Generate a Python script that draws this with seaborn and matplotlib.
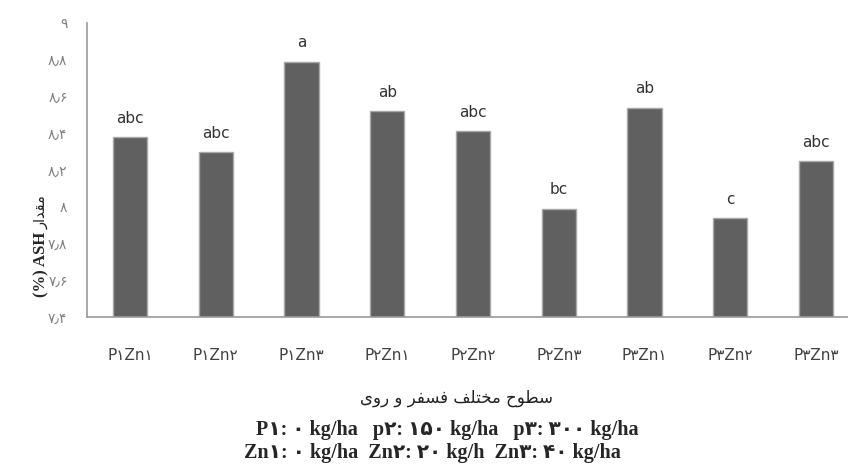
import matplotlib
matplotlib.use('Agg')
import matplotlib.pyplot as plt
import seaborn as sns
import pandas as pd

# data
treatments = ['P۱Zn۱', 'P۱Zn۲', 'P۱Zn۳', 'P۲Zn۱', 'P۲Zn۲', 'P۲Zn۳', 'P۳Zn۱', 'P۳Zn۲', 'P۳Zn۳']
ash = [8.38, 8.30, 8.79, 8.52, 8.41, 7.99, 8.54, 7.94, 8.25]
letters = ['abc', 'abc', 'a', 'ab', 'abc', 'bc', 'ab', 'c', 'abc']
ytick_vals = [7.4, 7.6, 7.8, 8.0, 8.2, 8.4, 8.6, 8.8, 9.0]
ytick_labels = ['۷٫۴', '۷٫۶', '۷٫۸', '۸', '۸٫۲', '۸٫۴', '۸٫۶', '۸٫۸', '۹']

# persian text, written in visual order with presentation forms
# "سطوح مختلف فسفر و روی"
xlab = ('\u06CC\u0648\u0631 \u0648 \uFEAE\uFED4\uFEB4\uFED3 '
        '\uFED2\uFEE0\uFE98\uFEA8\uFEE3 \u062D\uFEEE\uFEC4\uFEB3')
# "مقدار"
ylab_fa = '\u0631\u0627\uFEAA\uFED8\uFEE3'

note1 = 'P۱: ۰ kg/ha   p۲: ۱۵۰ kg/ha   p۳: ۳۰۰ kg/ha'
note2 = 'Zn۱: ۰ kg/ha  Zn۲: ۲۰ kg/h  Zn۳: ۴۰ kg/ha'

df = pd.DataFrame({'treat': treatments, 'ash': ash})

sns.set_style('white')
plt.rcParams['font.family'] = ['DejaVu Sans']

fig = plt.figure(figsize=(8.48, 4.66), dpi=100)
ax = fig.add_axes([87 / 848, 149 / 466, 772 / 848, 294 / 466])

sns.barplot(data=df, x='treat', y='ash', color='#606060', width=0.4,
            edgecolor='#a8a8a8', linewidth=1, saturation=1, ax=ax)
for b in ax.patches:
    b.set_facecolor('#606060')

ax.set_xlim(-0.5, 8.5)
ax.set_ylim(7.4, 9.0)
ax.set_yticks(ytick_vals)
ax.set_yticklabels(ytick_labels)
ax.tick_params(axis='y', length=0, pad=14, labelsize=10, labelcolor='#808080')
ax.tick_params(axis='x', length=0, pad=22, labelsize=11, labelcolor='#404040')
ax.set_xlabel('')
ax.set_ylabel('')

for s in ['top', 'right']:
    ax.spines[s].set_visible(False)
for s in ['left', 'bottom']:
    ax.spines[s].set_color('#9a9a9a')
    ax.spines[s].set_linewidth(1.2)

# significance letters
for i, (v, l) in enumerate(zip(ash, letters)):
    ax.annotate(l, (i, v), xytext=(0, 8), textcoords='offset points',
                ha='center', va='bottom', fontsize=11, color='#333333')

# y label: persian part + bold latin part
fig.text(41 / 848, 1 - 264 / 466, '(%) ASH', rotation=90, ha='center', va='center',
         fontsize=12, fontweight='bold', family=['Liberation Serif', 'DejaVu Sans'])
fig.text(41 / 848, 1 - 212 / 466, ylab_fa, rotation=90, ha='center', va='center',
         fontsize=10.5, color='#222222')

fig.text(457 / 848, 1 - 398 / 466, xlab, ha='center', va='center', fontsize=12,
         color='#222222')
fig.text(447 / 848, 1 - 430 / 466, note1, ha='center', va='center', fontsize=14.5,
         fontweight='bold', family=['Liberation Serif', 'DejaVu Sans'])
fig.text(432 / 848, 1 - 453 / 466, note2, ha='center', va='center', fontsize=14.5,
         fontweight='bold', family=['Liberation Serif', 'DejaVu Sans'])

plt.savefig('out.png', dpi=100)
plt.close()
